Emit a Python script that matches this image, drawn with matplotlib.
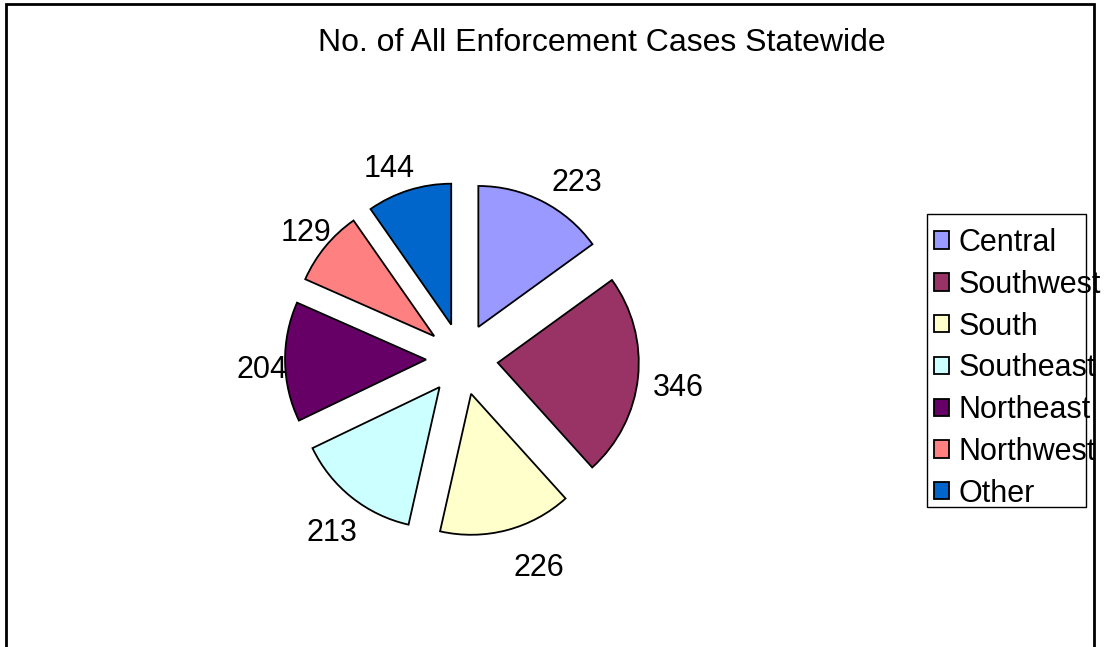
import numpy as np
import matplotlib.pyplot as plt
from matplotlib.patches import Rectangle

plt.rcParams['font.family'] = ['Liberation Sans', 'DejaVu Sans']

# data
regions = ['Central', 'Southwest', 'South', 'Southeast', 'Northeast', 'Northwest', 'Other']
cases = [223, 346, 226, 213, 204, 129, 144]
colors = ['#9999FF', '#993366', '#FFFFCC', '#CCFFFF', '#660066', '#FF8080', '#0066CC']

# label placement tweaks (degrees clockwise, distance in radii from slice apex)
label_shift = [6.9, 1.0, -6.9, -1.5, -1.8, 0.2, -3.9]
label_dist = [1.256, 1.287, 1.306, 1.268, 1.164, 1.182, 1.209]

W, H = 1112, 647
fig = plt.figure(figsize=(W / 100, H / 100), dpi=100)

# pie axes: centre (462, 359) px, radius 141 px
R = 141
L = 1.6
cx, cy = 462, 359
ax = fig.add_axes([(cx - L * R) / W, (H - cy - L * R) / H, 2 * L * R / W, 2 * L * R / H])

wedges, _ = ax.pie(cases, colors=colors, explode=[0.255] * len(cases),
                   startangle=90, counterclock=False,
                   wedgeprops=dict(edgecolor='black', linewidth=1.3))
ax.set_xlim(-L, L)
ax.set_ylim(-L, L)
ax.set_aspect('equal')
ax.axis('off')

for w, v, sh, d in zip(wedges, cases, label_shift, label_dist):
    mid = (w.theta1 + w.theta2) / 2 - sh
    x = w.center[0] + d * np.cos(np.radians(mid))
    y = w.center[1] + d * np.sin(np.radians(mid)) - 3 / R  # digits have no descender
    ax.text(x, y, str(v), ha='center', va='center', fontsize=22)

fig.text(602 / W, 1 - 43 / H, 'No. of All Enforcement Cases Statewide',
         ha='center', va='center', fontsize=23)

leg = fig.legend(wedges, regions, loc='upper left',
                 bbox_to_anchor=(934 / W, 1 - 228 / H), bbox_transform=fig.transFigure,
                 frameon=False, fontsize=22, handlelength=0.5, handleheight=0.5,
                 handletextpad=0.3, labelspacing=0.385, borderpad=0, borderaxespad=0)

# legend box and outer border
fig.patches.append(Rectangle((927 / W, 1 - 507 / H), (1086 - 927) / W, (507 - 214) / H,
                             transform=fig.transFigure, fill=False,
                             edgecolor='black', linewidth=1))
fig.patches.append(Rectangle((6 / W, -0.05), (1094 - 6) / W, 1.05 - 4 / H,
                             transform=fig.transFigure, fill=False,
                             edgecolor='black', linewidth=2))

plt.savefig('out.png', dpi=100)
